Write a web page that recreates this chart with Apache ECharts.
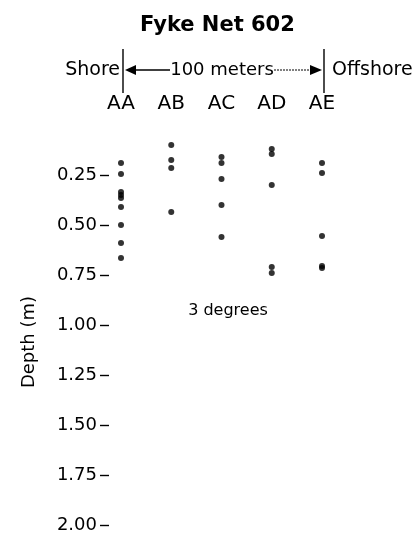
<!DOCTYPE html>
<html>
<head>
<meta charset="utf-8">
<script src="https://cdn.jsdelivr.net/npm/echarts@6/dist/echarts.min.js"></script>
<style>html,body{margin:0;padding:0;background:#fff}#c{width:415px;height:540px}</style>
</head>
<body>
<div id="c"></div>
<script>
const stations = ['AA', 'AB', 'AC', 'AD', 'AE'];
const depthAA = [0.19, 0.245, 0.335, 0.35, 0.365, 0.41, 0.50, 0.59, 0.665];
const depthAB = [0.10, 0.175, 0.215, 0.435];
const depthAC = [0.16, 0.19, 0.27, 0.40, 0.56];
const depthAD = [0.12, 0.145, 0.30, 0.71, 0.74];
const depthAE = [0.19, 0.24, 0.555, 0.705, 0.715];
const depthTicks = [0.25, 0.50, 0.75, 1.00, 1.25, 1.50, 1.75, 2.00];
const depthTickLabels = ['0.25', '0.50', '0.75', '1.00', '1.25', '1.50', '1.75', '2.00'];
const titleText = 'Fyke Net 602';
const yName = 'Depth (m)';
const note = '3 degrees';

const allDepths = [depthAA, depthAB, depthAC, depthAD, depthAE];
const points = [];
allDepths.forEach((arr, i) => arr.forEach(v => points.push([stations[i], v])));

const FONT = 'DejaVu Sans';
const chart = echarts.init(document.getElementById('c'));
chart.setOption({
  animation: false,
  backgroundColor: '#fff',
  textStyle: { fontFamily: FONT, color: '#000' },
  title: {
    text: titleText, left: 135, top: 10,
    textStyle: { fontFamily: FONT, fontWeight: 'bold', fontSize: 21, color: '#000' }
  },
  grid: { left: 121, right: 93, top: 125, bottom: 15 },
  xAxis: {
    type: 'category', data: stations, boundaryGap: false, position: 'top',
    axisLine: { show: false }, axisTick: { show: false }, splitLine: { show: false },
    axisLabel: { margin: 11, fontSize: 20, color: '#000', fontFamily: FONT }
  },
  yAxis: {
    type: 'value', inverse: true, min: 0, max: 2, position: 'left', offset: 12,
    axisLine: { show: false }, splitLine: { show: false },
    axisTick: { show: true, customValues: depthTicks, length: 9, inside: false,
      lineStyle: { color: '#000', width: 1.4 } },
    axisLabel: { customValues: depthTicks, margin: 12, fontSize: 18, color: '#000', fontFamily: FONT,
      formatter: v => depthTickLabels[depthTicks.findIndex(t => Math.abs(t - v) < 1e-6)] ?? '' }
  },
  series: [{
    type: 'scatter', data: points, symbol: 'circle', symbolSize: 6,
    itemStyle: { color: '#000' }, silent: true
  }]
});

const xA = chart.convertToPixel({ xAxisIndex: 0 }, 'AA') + 2;
const xE = chart.convertToPixel({ xAxisIndex: 0 }, 'AE') + 2;
const yArrow = 70;
chart.setOption({
  graphic: [
    { type: 'line', shape: { x1: xA, y1: 49, x2: xA, y2: 93 }, style: { stroke: '#000', lineWidth: 1.4 } },
    { type: 'line', shape: { x1: xE, y1: 49, x2: xE, y2: 93 }, style: { stroke: '#000', lineWidth: 1.4 } },
    { type: 'text', x: xA - 3, y: yArrow, style: { text: 'Shore', font: '19px "DejaVu Sans"', fill: '#000', align: 'right', verticalAlign: 'middle' } },
    { type: 'text', x: xE + 8, y: yArrow, style: { text: 'Offshore', font: '19px "DejaVu Sans"', fill: '#000', align: 'left', verticalAlign: 'middle' } },
    { type: 'polygon', shape: { points: [[xA + 2, yArrow], [xA + 13, yArrow - 5], [xA + 13, yArrow + 5]] }, style: { fill: '#000' } },
    { type: 'line', shape: { x1: xA + 10, y1: yArrow, x2: xA + 47, y2: yArrow }, style: { stroke: '#000', lineWidth: 1.4 } },
    { type: 'text', x: (xA + 47 + xA + 151) / 2, y: yArrow, style: { text: '100 meters', font: '18px "DejaVu Sans"', fill: '#000', align: 'center', verticalAlign: 'middle' } },
    { type: 'line', shape: { x1: xA + 151, y1: yArrow, x2: xE - 10, y2: yArrow }, style: { stroke: '#000', lineWidth: 1, lineDash: [2, 1] } },
    { type: 'polygon', shape: { points: [[xE - 2, yArrow], [xE - 14, yArrow - 5], [xE - 14, yArrow + 5]] }, style: { fill: '#000' } },
    { type: 'text', x: 228, y: 311, style: { text: note, font: '16px "DejaVu Sans"', fill: '#000', align: 'center', verticalAlign: 'middle' } },
    { type: 'text', x: 29, y: 342, rotation: Math.PI / 2, style: { text: yName, font: '18px "DejaVu Sans"', fill: '#000', align: 'center', verticalAlign: 'middle' } }
  ]
});
</script>
</body>
</html>
